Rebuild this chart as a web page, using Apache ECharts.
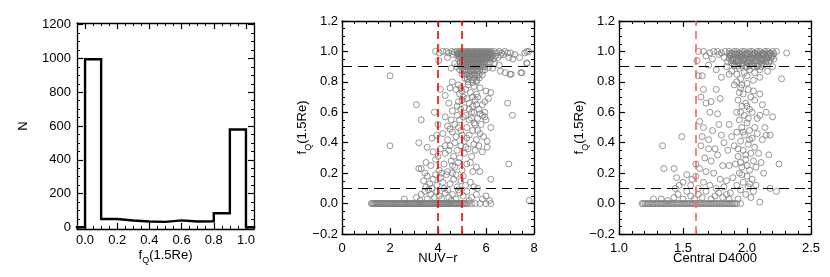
<!DOCTYPE html>
<html><head><meta charset="utf-8">
<script src="https://cdn.jsdelivr.net/npm/echarts@6/dist/echarts.min.js"></script>
<style>html,body{margin:0;padding:0;background:#fff}#c{width:830px;height:277px}</style>
</head><body><div id="c"></div><script>
// ---------- data ----------
const histEdges = [0, 0.1, 0.2, 0.3, 0.4, 0.5, 0.6, 0.7, 0.8, 0.9, 1.0];
const histCounts = [995, 49, 40, 34, 32, 41, 34, 36, 83, 579];
const histXTicks = [0, 0.2, 0.4, 0.6, 0.8, 1.0];
const histYTicks = [0, 200, 400, 600, 800, 1000, 1200];
const nuvTicks = [0, 2, 4, 6, 8];
const d4000Ticks = [1.0, 1.5, 2.0, 2.5];
const fqTicks = [-0.2, 0, 0.2, 0.4, 0.6, 0.8, 1.0, 1.2];
const nuvCuts = [4, 5];
const d4000Cuts = [1.6];
const fqCuts = [0.1, 0.9];

// galaxies with fQ = 0 (NUV-r values)
const nuvZeroRowX = [1.22,1.27,1.31,1.36,1.4,1.45,1.49,1.54,1.58,1.63,1.67,1.72,1.76,1.81,1.85,1.9,1.94,1.99,2.03,2.08,2.12,2.17,2.21,2.26,2.3,2.35,2.39,2.44,2.48,2.53,2.57,2.62,2.66,2.71,2.75,2.8,2.84,2.89,2.93,2.98,3.02,3.07,3.11,3.16,3.2,3.25,3.29,3.34,3.38,3.43,3.47,3.52,3.56,3.61,3.65,3.7,3.74,3.79,3.83,3.88,3.92,3.97,4.01,4.06,4.1,4.15,4.19,4.24,4.28,4.33,4.37,4.42,4.46,4.51,4.55,4.6,4.64,4.69,4.73,4.78,4.82,4.87,4.91,4.96,5.0,5.06,5.12,5.19,5.27,5.4,5.55,5.75,6.0,6.2];
// other galaxies [NUV-r, fQ]
const nuvPoints = [
[3.9,1.0],[4.05,0.99],[4.2,1.0],[4.35,1.0],[4.45,0.99],[4.58,1.0],[4.68,0.995],[4.78,1.0],[4.84,0.99],[4.9,1.0],[4.95,0.995],[5.0,1.0],[5.05,0.99],[5.1,1.0],[5.15,0.995],[5.2,1.0],[5.25,0.99],[5.3,1.0],[5.35,0.995],[5.4,1.0],[5.45,0.99],[5.5,1.0],[5.55,0.995],[5.6,1.0],[5.65,0.99],[5.7,1.0],[5.75,0.995],[5.8,1.0],[5.85,0.99],[5.9,1.0],[5.95,0.995],[6.0,1.0],[6.05,0.99],[6.1,1.0],[6.15,0.995],[6.2,1.0],[6.27,0.99],[6.35,1.0],[6.45,0.99],[6.55,1.0],[6.65,0.99],[6.78,1.0],[6.9,0.99],[7.02,0.99],[7.2,0.98],[7.62,0.99],[7.7,1.0],[7.78,1.0],
[4.83,0.985],[4.91,0.985],[4.99,0.985],[5.07,0.985],[5.15,0.985],[5.23,0.985],[5.31,0.985],[5.39,0.985],[5.47,0.985],[5.55,0.985],[5.63,0.985],[5.71,0.985],[5.79,0.985],[5.87,0.985],[5.95,0.985],[6.03,0.985],[6.11,0.985],[6.19,0.985],
[4.8,0.975],[4.88,0.97],[4.96,0.98],[5.04,0.975],[5.12,0.97],[5.2,0.98],[5.28,0.975],[5.36,0.97],[5.44,0.98],[5.52,0.975],[5.6,0.97],[5.68,0.98],[5.76,0.975],[5.84,0.97],[5.92,0.98],[6.0,0.975],[6.08,0.97],[6.16,0.98],[6.25,0.975],[6.38,0.97],[6.6,0.975],[4.62,0.98],[4.4,0.96],
[4.9,0.962],[4.98,0.965],[5.06,0.96],[5.14,0.965],[5.22,0.962],[5.3,0.96],[5.38,0.965],[5.46,0.962],[5.54,0.96],[5.62,0.965],[5.7,0.962],[5.78,0.96],[5.86,0.965],[5.94,0.962],[6.02,0.96],[6.1,0.965],[6.18,0.96],
[4.86,0.95],[4.94,0.955],[5.02,0.945],[5.1,0.955],[5.18,0.95],[5.26,0.945],[5.34,0.955],[5.42,0.95],[5.5,0.945],[5.58,0.955],[5.66,0.95],[5.74,0.945],[5.82,0.955],[5.9,0.95],[5.98,0.945],[6.06,0.955],[6.14,0.95],[6.22,0.96],[6.32,0.95],[6.5,0.96],[6.72,0.98],[6.95,0.96],[7.12,0.95],[7.4,0.96],[4.03,0.94],
[4.92,0.925],[5.0,0.93],[5.08,0.92],[5.16,0.93],[5.24,0.925],[5.32,0.93],[5.4,0.92],[5.48,0.93],[5.56,0.925],[5.64,0.93],[5.72,0.92],[5.8,0.93],[5.88,0.925],[5.96,0.93],[6.05,0.92],[6.18,0.93],[6.35,0.92],[7.7,0.925],[4.7,0.92],
[4.98,0.91],[5.06,0.915],[5.14,0.91],[5.22,0.915],[5.3,0.91],[5.38,0.915],[5.46,0.91],[5.54,0.915],[5.62,0.91],[5.7,0.915],[5.78,0.91],[5.88,0.915],
[4.78,0.9],[4.96,0.9],[5.05,0.895],[5.13,0.905],[5.21,0.9],[5.29,0.895],[5.37,0.905],[5.45,0.9],[5.53,0.895],[5.61,0.905],[5.69,0.9],[5.77,0.895],[5.85,0.905],[5.95,0.9],[6.1,0.895],[6.28,0.89],[6.55,0.91],[4.55,0.89],
[4.9,0.88],[5.02,0.87],[5.1,0.875],[5.18,0.87],[5.26,0.88],[5.34,0.87],[5.42,0.875],[5.5,0.87],[5.58,0.88],[5.66,0.87],[5.74,0.875],[5.84,0.87],[5.95,0.88],[6.6,0.87],[6.8,0.86],[7.05,0.85],[7.45,0.86],
[5.0,0.85],[5.1,0.845],[5.2,0.85],[5.3,0.84],[5.38,0.85],[5.46,0.845],[5.54,0.85],[5.62,0.84],[5.72,0.85],[5.85,0.845],[5.12,0.825],[5.22,0.82],[5.32,0.83],[5.42,0.815],[5.52,0.825],[5.62,0.81],[5.72,0.825],[5.25,0.8],[5.45,0.795],[5.6,0.8],
[4.1,0.75],[4.5,0.76],[4.75,0.75],[5.0,0.74],[5.25,0.78],[5.5,0.77],[5.6,0.72],[5.75,0.76],[6.0,0.74],[5.35,0.73],[4.85,0.78],
[4.45,0.66],[4.85,0.67],[5.0,0.68],[5.1,0.63],[5.3,0.66],[5.4,0.6],[5.55,0.68],[5.7,0.62],[5.85,0.65],[5.95,0.6],[4.95,0.62],[5.2,0.69],[4.6,0.61],[5.45,0.64],[4.3,0.71],[5.65,0.7],[6.1,0.69],
[3.85,0.6],[4.3,0.57],[4.55,0.55],[4.7,0.52],[4.8,0.58],[4.9,0.55],[5.05,0.57],[5.2,0.5],[5.3,0.55],[5.5,0.53],[5.65,0.56],[5.8,0.52],[6.0,0.55],[6.2,0.5],[4.4,0.51],[4.0,0.52],[5.75,0.59],[5.95,0.57],
[3.75,0.43],[3.95,0.45],[4.2,0.46],[4.4,0.42],[4.6,0.47],[4.75,0.44],[4.95,0.48],[5.1,0.41],[5.3,0.45],[5.45,0.48],[5.6,0.42],[5.75,0.46],[5.9,0.44],[6.05,0.41],[4.5,0.49],[5.2,0.43],
[3.55,0.37],[3.8,0.34],[4.1,0.36],[4.3,0.33],[4.5,0.38],[4.65,0.31],[4.8,0.35],[4.95,0.38],[5.1,0.33],[5.25,0.36],[5.4,0.31],[5.55,0.35],[5.7,0.38],[5.85,0.34],[6.05,0.37],[4.0,0.31],[4.45,0.35],
[3.2,0.23],[3.3,0.23],[3.5,0.27],[3.7,0.25],[3.9,0.29],[4.05,0.22],[4.25,0.26],[4.4,0.21],[4.55,0.28],[4.7,0.24],[4.85,0.27],[5.0,0.22],[5.2,0.26],[5.45,0.21],[5.6,0.24],[5.75,0.21],[6.2,0.16],[3.45,0.2],[4.6,0.2],
[3.4,0.15],[3.55,0.18],[3.65,0.13],[3.8,0.16],[3.95,0.12],[4.1,0.17],[4.2,0.14],[4.35,0.19],[4.5,0.13],[4.65,0.16],[4.8,0.11],[4.95,0.15],[5.15,0.12],[5.35,0.14],[5.5,0.11],[3.9,0.19],[4.25,0.1],[4.75,0.19],[5.65,0.1],[3.5,0.11],[3.75,0.1],
[3.1,0.04],[3.3,0.06],[3.45,0.08],[3.55,0.03],[3.7,0.06],[3.85,0.04],[3.95,0.08],[4.05,0.05],[4.15,0.03],[4.3,0.07],[4.45,0.04],[4.6,0.06],[4.75,0.03],[4.9,0.07],[5.05,0.05],[5.2,0.08],[5.4,0.04],[5.6,0.06],[5.85,0.03],[6.0,0.05],[2.6,0.03],[3.6,0.09],[4.4,0.09],[4.85,0.09],[3.25,0.02],[4.55,0.02],[5.3,0.02],[6.15,0.02],
[4.9,0.72],[5.05,0.7],[5.15,0.75],[5.45,0.7],[5.3,0.62],[5.5,0.6],[5.6,0.65],[4.8,0.64],[5.15,0.58],[5.4,0.56],[5.55,0.52],[4.85,0.5],[5.0,0.45],[5.15,0.37],[4.9,0.3],[5.35,0.27],[5.05,0.18],[4.6,0.25],[4.15,0.2],[4.3,0.38],[4.7,0.4],[5.5,0.39],[5.65,0.48],[5.85,0.58],[5.95,0.67],[6.2,0.73],[4.95,0.76],[4.6,0.8],
[2.0,0.84],[2.0,0.38],[3.1,0.65],[3.3,0.55],[3.2,0.4],[6.9,0.66],[7.1,0.58],[6.95,0.26],[7.8,0.02],[7.7,0.92],[7.0,0.85],[7.5,0.86]
];

// galaxies with fQ = 0 (central D4000 values)
const d4000ZeroRowX = [1.18,1.19,1.205,1.217,1.23,1.242,1.255,1.267,1.28,1.292,1.305,1.317,1.33,1.342,1.355,1.367,1.38,1.392,1.405,1.417,1.43,1.442,1.455,1.467,1.48,1.492,1.505,1.517,1.53,1.542,1.555,1.567,1.58,1.592,1.605,1.617,1.63,1.642,1.655,1.667,1.68,1.692,1.705,1.717,1.73,1.742,1.755,1.767,1.78,1.792,1.805,1.817,1.83,1.842,1.855,1.867,1.88,1.892,1.905,1.92,1.95];
// other galaxies [D4000, fQ]
const d4000Points = [
[1.62,1.0],[1.66,1.0],[1.71,0.99],[1.74,1.0],[1.77,1.0],[1.8,0.99],[1.83,1.0],[1.86,1.0],[1.88,0.99],[1.9,1.0],[1.92,1.0],[1.94,0.99],[1.96,1.0],[1.98,1.0],[2.0,0.99],[2.02,1.0],[2.04,1.0],[2.06,0.99],[2.08,1.0],[2.1,1.0],[2.12,0.99],[2.14,1.0],[2.16,1.0],[2.18,0.99],[2.2,1.0],[2.23,1.0],[2.31,0.99],
[1.86,0.985],[1.885,0.985],[1.91,0.985],[1.935,0.985],[1.96,0.985],[1.985,0.985],[2.01,0.985],[2.035,0.985],[2.06,0.985],[2.085,0.985],[2.11,0.985],[2.135,0.985],[2.16,0.985],[2.185,0.985],[2.21,0.985],
[1.87,0.975],[1.9,0.98],[1.93,0.975],[1.96,0.97],[1.99,0.975],[2.02,0.98],[2.05,0.975],[2.08,0.97],[2.11,0.975],[2.14,0.98],[2.17,0.975],[2.2,0.97],
[1.86,0.955],[1.89,0.95],[1.92,0.955],[1.95,0.96],[1.98,0.955],[2.01,0.95],[2.04,0.955],[2.07,0.96],[2.1,0.955],[2.13,0.95],[2.16,0.955],[2.19,0.96],
[1.875,0.94],[1.9,0.94],[1.925,0.94],[1.95,0.94],[1.975,0.94],[2.0,0.94],[2.025,0.94],[2.05,0.94],[2.075,0.94],[2.1,0.94],[2.125,0.94],[2.15,0.94],[2.18,0.94],
[1.88,0.925],[1.91,0.93],[1.94,0.925],[1.97,0.92],[2.0,0.925],[2.03,0.93],[2.06,0.925],[2.09,0.92],[2.12,0.925],[2.15,0.93],
[1.9,0.905],[1.93,0.905],[1.96,0.905],[1.99,0.9],[2.02,0.905],[2.05,0.9],[2.08,0.905],[2.11,0.9],
[1.61,0.94],[1.68,0.97],[1.73,0.95],[1.78,0.98],[1.82,0.96],[1.85,0.93],[1.87,0.97],[1.89,0.95],[1.91,0.98],[1.93,0.94],[1.95,0.97],[1.97,0.95],[1.99,0.98],[2.01,0.93],[2.03,0.96],[2.05,0.98],[2.07,0.94],[2.09,0.97],[2.11,0.95],[2.13,0.98],[2.15,0.96],[2.17,0.93],[2.19,0.97],[2.21,0.95],
[1.7,0.91],[1.76,0.88],[1.84,0.9],[1.88,0.87],[1.9,0.91],[1.92,0.85],[1.94,0.89],[1.96,0.92],[1.98,0.86],[2.0,0.9],[2.02,0.88],[2.04,0.92],[2.06,0.86],[2.08,0.9],[2.1,0.88],[2.13,0.91],[2.16,0.87],[2.2,0.9],[2.27,0.82],[1.65,0.84],[1.8,0.83],[1.95,0.82],[2.0,0.84],[2.05,0.81],[2.1,0.83],[1.92,0.8],[1.86,0.85],
[1.9,0.78],[1.95,0.76],[2.0,0.79],[2.05,0.74],[1.97,0.72],[2.03,0.7],[1.93,0.68],[1.99,0.66],[2.06,0.68],[1.96,0.64],[2.02,0.62],[1.92,0.6],[1.98,0.58],[2.04,0.6],[2.08,0.56],[1.94,0.55],[2.0,0.53],[1.96,0.5],[2.02,0.48],[2.06,0.5],[1.92,0.47],[1.98,0.45],[2.04,0.43],[2.08,0.46],[1.95,0.41],[2.01,0.39],[1.9,0.38],[2.06,0.37],[1.97,0.35],[2.03,0.33],[1.93,0.31],[1.99,0.29],[2.05,0.28],[1.91,0.26],[1.96,0.24],[2.02,0.22],[2.07,0.24],[1.94,0.2],[2.0,0.18],[1.89,0.17],[2.04,0.16],[1.97,0.14],[1.92,0.12],[2.01,0.11],[1.95,0.09],[1.99,0.06],[2.03,0.04],[1.93,0.03],[2.05,0.08],[1.87,0.07],
[2.1,0.72],[2.12,0.65],[2.1,0.58],[2.14,0.5],[2.12,0.42],[2.15,0.45],[2.09,0.33],[2.11,0.27],[2.13,0.2],[1.86,0.52],[1.88,0.44],[1.85,0.35],[1.86,0.25],[1.84,0.15],[2.07,0.12],[2.15,0.6],[2.18,0.45],[2.2,0.57],[2.17,0.32],[2.25,0.26],[2.18,0.1],[2.1,0.01],[1.96,0.78],[2.01,0.75],[1.94,0.73],[2.0,0.64],[1.95,0.6],[2.01,0.56],[1.97,0.47],[2.02,0.42],[1.93,0.36],[1.99,0.32],[1.95,0.27],[2.0,0.25],[1.96,0.19],[2.02,0.13],
[1.62,0.84],[1.66,0.75],[1.68,0.66],[1.64,0.7],[1.72,0.67],[1.76,0.75],[1.79,0.69],[1.77,0.59],[1.71,0.6],[1.63,0.54],[1.66,0.5],[1.65,0.44],[1.7,0.42],[1.73,0.48],[1.78,0.52],[1.8,0.45],[1.64,0.38],[1.7,0.36],[1.75,0.36],[1.82,0.4],[1.67,0.3],[1.72,0.28],[1.77,0.32],[1.81,0.25],[1.6,0.26],[1.63,0.23],[1.68,0.21],[1.74,0.2],[1.79,0.16],[1.66,0.14],[1.71,0.12],[1.76,0.1],[1.82,0.11],[1.6,0.18],[1.57,0.16],[1.53,0.19],[1.56,0.12],[1.5,0.14],[1.62,0.1],
[1.27,0.03],[1.33,0.03],[1.38,0.02],[1.43,0.04],[1.46,0.06],[1.5,0.03],[1.53,0.08],[1.56,0.05],[1.59,0.03],[1.62,0.06],[1.65,0.04],[1.68,0.08],[1.72,0.03],[1.75,0.05],[1.78,0.07],[1.81,0.04],[1.84,0.06],[1.86,0.03],[1.44,0.1],[1.47,0.12],
[1.34,0.38],[1.49,0.44],[1.35,0.23],[1.43,0.23],[1.45,0.17],[2.23,0.08]
];

// ---------- helpers ----------
const FONT = '"Liberation Sans", Arial, Helvetica, sans-serif';
const NAX = 5; // axes per grid and dimension
function steps(lo, hi, step) {
  const out = [];
  const n = Math.round((hi - lo) / step);
  for (let i = 0; i <= n; i++) out.push(+(lo + i * step).toFixed(4));
  return out;
}
const fmt1 = v => (v < -1e-9 ? '\u2212' : '') + Math.abs(v).toFixed(1);
const fmt0 = v => String(Math.round(v));

function axes(dim, grid, min, max, majors, minors, fmt, opts) {
  const posA = dim === 'x' ? 'bottom' : 'left';
  const posB = dim === 'x' ? 'top' : 'right';
  const base = (showLine) => ({
    type: 'value', gridIndex: grid, min, max,
    splitLine: { show: false },
    axisLine: { show: showLine, onZero: false, lineStyle: { color: '#000', width: 1.3 } },
    axisLabel: { show: false }
  });
  const major = (pos, lab) => Object.assign(base(true), {
    position: pos,
    axisTick: { show: true, inside: true, length: 6, customValues: majors, lineStyle: { color: '#000', width: 1.2 } },
    axisLabel: lab ? { show: true, customValues: majors, formatter: fmt, margin: opts.margin, color: '#000', fontSize: 13, fontFamily: FONT } : { show: false }
  });
  const minor = (pos) => Object.assign(base(false), {
    position: pos,
    axisTick: { show: true, inside: true, length: 3, customValues: minors, lineStyle: { color: '#000', width: 1 } }
  });
  // separate axis carrying only the axis title
  const nameAxis = Object.assign(base(false), {
    position: posA,
    axisTick: { show: false },
    name: opts.name, nameLocation: 'middle', nameGap: opts.nameGap,
    nameTextStyle: {
      color: '#000', fontSize: 13, fontFamily: FONT,
      rich: {
        n: { fontSize: 13, fontFamily: FONT, color: '#000', lineHeight: 17, verticalAlign: 'bottom', padding: [0, 0, 4, 0] },
        s: { fontSize: 9, fontFamily: FONT, color: '#000', lineHeight: 9, verticalAlign: 'bottom', padding: [8, 0, 0, 0] }
      }
    }
  });
  return [major(posA, true), minor(posA), major(posB, false), minor(posB), nameAxis];
}

const fqName = '{n|f}{s|Q}{n|(1.5Re)}';

const xAxes = [].concat(
  axes('x', 0, -0.05, 1.05, histXTicks, steps(0, 1, 0.05), fmt1, { margin: 5, name: fqName, nameGap: 19.5 }),
  axes('x', 1, 0, 8, nuvTicks, steps(0, 8, 0.5), fmt0, { margin: 8, name: 'NUV\u2212r', nameGap: 18 }),
  axes('x', 2, 1.0, 2.5, d4000Ticks, steps(1, 2.5, 0.1), fmt1, { margin: 8, name: 'Central D4000', nameGap: 18 })
);
const yAxes = [].concat(
  axes('y', 0, -10, 1210, histYTicks, steps(0, 1200, 50), fmt0, { margin: 6, name: 'N', nameGap: 47 }),
  axes('y', 1, -0.2, 1.2, fqTicks, steps(-0.2, 1.2, 0.05), fmt1, { margin: 4, name: fqName, nameGap: 29 }),
  axes('y', 2, -0.2, 1.2, fqTicks, steps(-0.2, 1.2, 0.05), fmt1, { margin: 4, name: fqName, nameGap: 29 })
);

// histogram outline built from edges and counts
const histLine = [[-0.05, 0]];
for (let i = 0; i < histCounts.length; i++) {
  histLine.push([histEdges[i], i === 0 ? 0 : histCounts[i - 1]]);
  histLine.push([histEdges[i], histCounts[i]]);
}
histLine.push([histEdges[histEdges.length - 1], histCounts[histCounts.length - 1]]);
histLine.push([histEdges[histEdges.length - 1], 0]);
histLine.push([1.05, 0]);

const scatterStyle = { color: 'rgba(0,0,0,0)', borderColor: '#7c7c7c', borderWidth: 1 };
function scatter(grid, zeroX, pts) {
  return {
    type: 'scatter', xAxisIndex: grid * NAX, yAxisIndex: grid * NAX,
    data: zeroX.map(x => [x, 0]).concat(pts),
    symbol: 'circle', symbolSize: 6, itemStyle: scatterStyle, silent: true, z: 2
  };
}
function cutLines(grid, xCuts, redColor) {
  return {
    type: 'line', xAxisIndex: grid * NAX, yAxisIndex: grid * NAX, data: [], z: 5, silent: true,
    markLine: {
      silent: true, symbol: ['none', 'none'], label: { show: false }, animation: false,
      data: xCuts.map(v => ({ xAxis: v, lineStyle: { color: redColor, width: 1.6, type: [8, 5] } }))
        .concat(fqCuts.map(v => ({ yAxis: v, lineStyle: { color: '#000', width: 1.1, type: [10, 6] } })))
    }
  };
}

const chart = echarts.init(document.getElementById('c'));
chart.setOption({
  animation: false,
  grid: [
    { left: 77, top: 23, width: 177, height: 206 },
    { left: 342, top: 21, width: 192, height: 213 },
    { left: 619, top: 21, width: 192, height: 213 }
  ],
  xAxis: xAxes,
  yAxis: yAxes,
  series: [
    {
      type: 'line', xAxisIndex: 0, yAxisIndex: 0, data: histLine, showSymbol: false, symbol: 'none',
      lineStyle: { color: '#000', width: 2.4, join: 'miter', cap: 'square' }, silent: true, z: 3
    },
    scatter(1, nuvZeroRowX, nuvPoints),
    cutLines(1, nuvCuts, '#f00'),
    scatter(2, d4000ZeroRowX, d4000Points),
    cutLines(2, d4000Cuts, '#ff6464')
  ]
});
</script></body></html>
